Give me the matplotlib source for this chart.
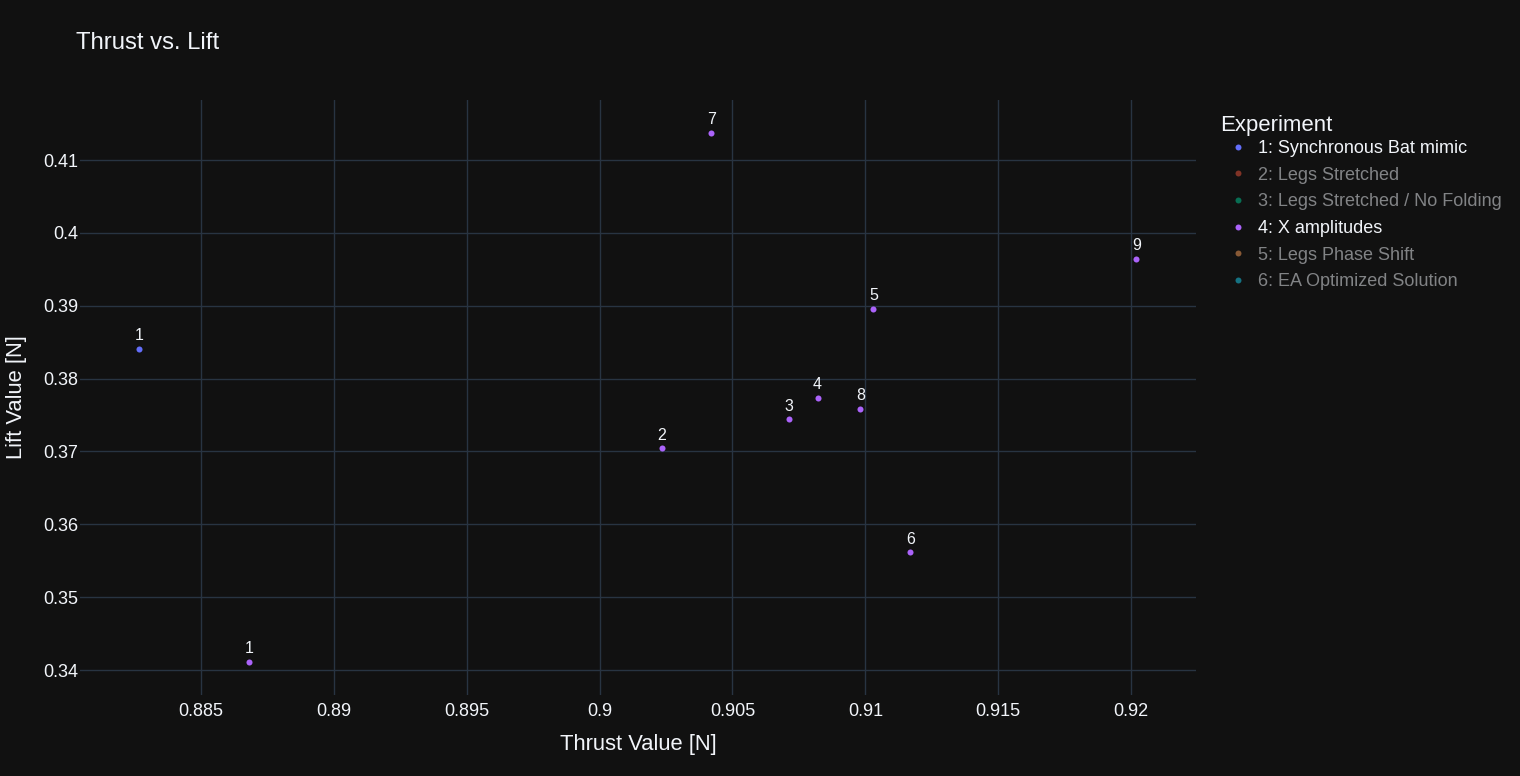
import matplotlib.pyplot as plt
from matplotlib.lines import Line2D

# experiments shown in legend (only 1 and 4 visible, others toggled off)
experiments = [
    "1: Synchronous Bat mimic",
    "2: Legs Stretched",
    "3: Legs Stretched / No Folding",
    "4: X amplitudes",
    "5: Legs Phase Shift",
    "6: EA Optimized Solution",
]
exp_colors = ["#636efa", "#EF553B", "#00cc96", "#ab63fa", "#FFA15A", "#19d3f3"]
exp_visible = [True, False, False, True, False, False]

# experiment 1
exp1_thrust = [0.88267]
exp1_lift = [0.38412]
exp1_labels = ["1"]

# experiment 4
exp4_thrust = [0.88680, 0.90233, 0.90711, 0.90820, 0.91030, 0.91169, 0.90421, 0.90981, 0.92019]
exp4_lift = [0.34110, 0.37041, 0.37439, 0.37739, 0.38959, 0.35616, 0.41371, 0.37588, 0.39643]
exp4_labels = ["1", "2", "3", "4", "5", "6", "7", "8", "9"]

xticks = [0.885, 0.89, 0.895, 0.9, 0.905, 0.91, 0.915, 0.92]
xticklabels = ["0.885", "0.89", "0.895", "0.9", "0.905", "0.91", "0.915", "0.92"]
yticks = [0.34, 0.35, 0.36, 0.37, 0.38, 0.39, 0.40, 0.41]
yticklabels = ["0.34", "0.35", "0.36", "0.37", "0.38", "0.39", "0.4", "0.41"]

BG = "#111111"
GRID = "#283442"
TXT = "#f2f5fa"

plt.rcParams["font.family"] = ["Liberation Sans", "DejaVu Sans"]

fig = plt.figure(figsize=(15.2, 7.76), dpi=100, facecolor=BG)
ax = fig.add_axes([80 / 1520, 1 - 695 / 776, (1196 - 80) / 1520, (695 - 100) / 776])
ax.set_facecolor(BG)

for xs, ys, labs, c in [(exp1_thrust, exp1_lift, exp1_labels, exp_colors[0]),
                        (exp4_thrust, exp4_lift, exp4_labels, exp_colors[3])]:
    ax.scatter(xs, ys, s=19, color=c, zorder=3, linewidths=0)
    for x, y, t in zip(xs, ys, labs):
        ax.annotate(t, (x, y), xytext=(0, 4), textcoords="offset points",
                    ha="center", va="bottom", color=TXT, fontsize=11.5)

ax.set_xlim(0.88045, 0.92244)
ax.set_ylim(0.33657, 0.41824)
ax.set_xticks(xticks)
ax.set_xticklabels(xticklabels)
ax.set_yticks(yticks)
ax.set_yticklabels(yticklabels)
ax.grid(True, color=GRID, linewidth=1)
ax.set_axisbelow(True)
for sp in ax.spines.values():
    sp.set_visible(False)
ax.tick_params(length=0, colors=TXT, labelsize=13)
ax.tick_params(axis="x", pad=6)
ax.tick_params(axis="y", pad=1.5)

ax.set_xlabel("Thrust Value [N]", color=TXT, fontsize=15.8, labelpad=10)
ax.set_ylabel("Lift Value [N]", color=TXT, fontsize=15.8, labelpad=11.5)
fig.text(76 / 1520, 1 - 43 / 776, "Thrust vs. Lift", color=TXT, fontsize=17.2,
         ha="left", va="center")

# legend title drawn as its own text, entries below it
fig.text(1220 / 1520, 1 - 125 / 776, "Experiment", color=TXT, fontsize=15.9,
         ha="left", va="center")
handles = []
for c, vis in zip(exp_colors, exp_visible):
    handles.append(Line2D([], [], marker="o", linestyle="none", markersize=4.3,
                          markerfacecolor=c, markeredgewidth=0,
                          alpha=1.0 if vis else 0.5))
leg = fig.legend(handles, experiments, loc="upper left",
                 bbox_to_anchor=(1212 / 1520, 1 - 133 / 776),
                 frameon=False, fontsize=13, handlelength=2.1,
                 handletextpad=0.06, labelspacing=0.53, borderaxespad=0)
for txt, vis in zip(leg.get_texts(), exp_visible):
    txt.set_color(TXT)
    txt.set_alpha(1.0 if vis else 0.5)

fig.savefig("out.png", dpi=100, facecolor=BG)
